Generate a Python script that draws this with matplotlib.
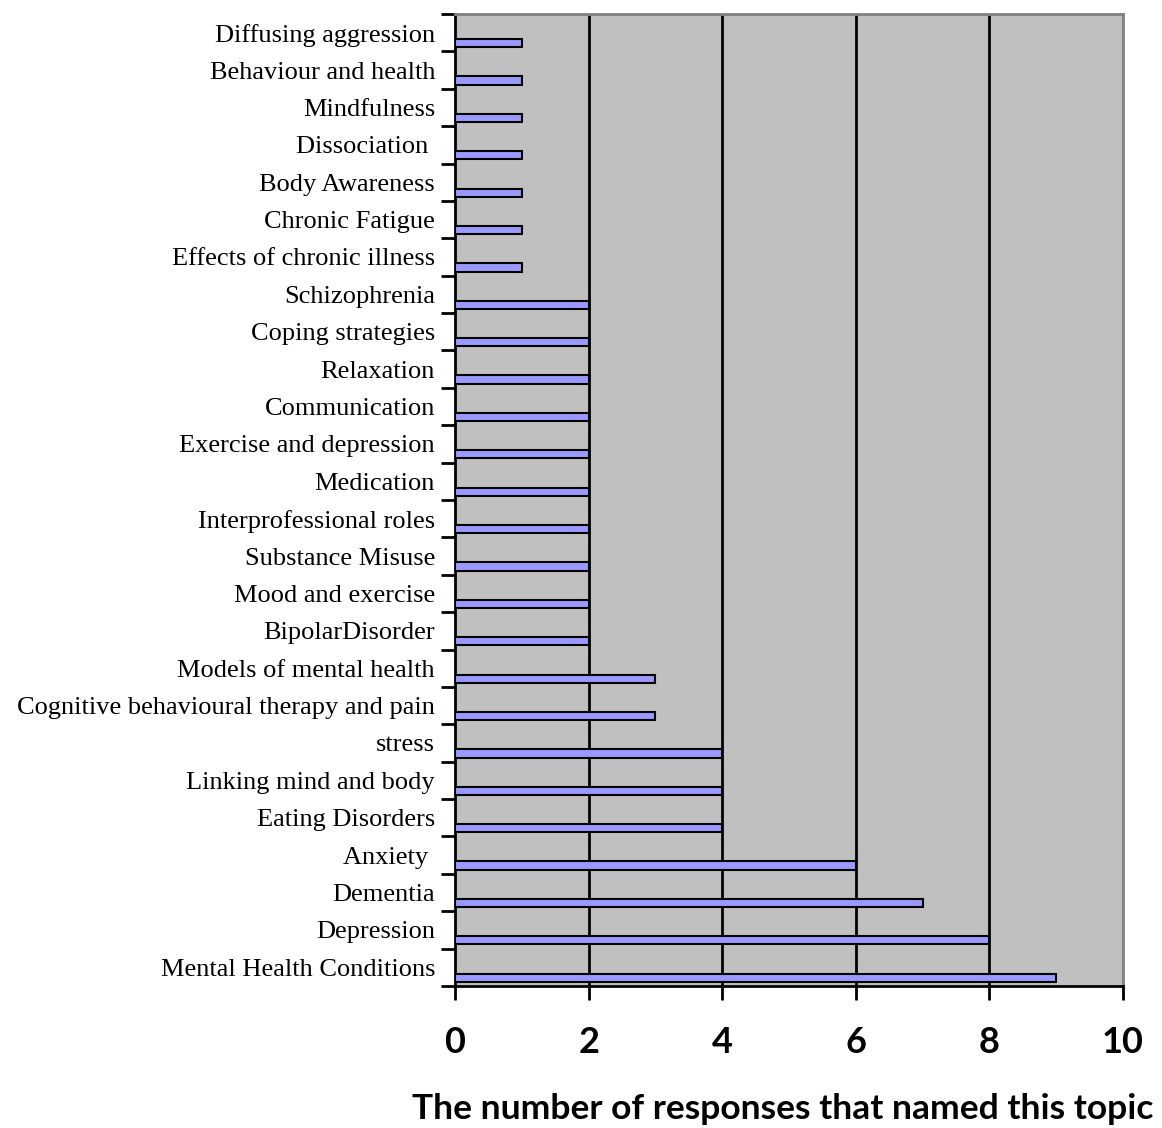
import numpy as np
import matplotlib.pyplot as plt
from matplotlib.ticker import FixedLocator

# topics listed from the bottom of the chart to the top
topics = [
    "Mental Health Conditions", "Depression", "Dementia", "Anxiety ",
    "Eating Disorders", "Linking mind and body", "stress",
    "Cognitive behavioural therapy and pain", "Models of mental health",
    "BipolarDisorder", "Mood and exercise", "Substance Misuse",
    "Interprofessional roles", "Medication", "Exercise and depression",
    "Communication", "Relaxation", "Coping strategies", "Schizophrenia",
    "Effects of chronic illness", "Chronic Fatigue", "Body Awareness",
    "Dissociation ", "Mindfulness", "Behaviour and health",
    "Diffusing aggression",
]
responses = [9, 8, 7, 6, 4, 4, 4, 3, 3, 2, 2, 2, 2, 2, 2, 2, 2, 2, 2,
             1, 1, 1, 1, 1, 1, 1]
x_ticks = [0, 2, 4, 6, 8, 10]


def plot_chart():
    fig = plt.figure(figsize=(11.62, 11.28), dpi=100)
    ax = fig.add_axes([0.3916, 0.1259, 0.5748, 0.8617])
    ax.set_facecolor("#c0c0c0")

    pos = np.arange(len(topics))
    # bars sit in the lower part of each category slot
    ax.barh(pos - 0.28, responses, height=0.22, color="#9999ff",
            edgecolor="black", linewidth=1.5, zorder=3)

    ax.set_xlim(0, 10)
    ax.set_ylim(-0.5, len(topics) - 0.5)

    for x in x_ticks[1:-1]:
        ax.axvline(x, color="black", linewidth=2, zorder=2)

    ax.set_yticks(pos)
    ax.set_yticklabels(topics, family="Liberation Serif", fontsize=19)
    ax.yaxis.set_minor_locator(FixedLocator(np.arange(-0.5, len(topics), 1.0)))
    ax.tick_params(axis="y", which="major", length=0, pad=14.4)
    ax.tick_params(axis="y", which="minor", length=10, width=2,
                   direction="out")

    ax.set_xticks(x_ticks)
    ax.set_xticklabels([str(v) for v in x_ticks], family="Lato",
                       fontweight="bold", fontsize=26)
    ax.tick_params(axis="x", length=10, width=2, direction="out", pad=19)
    ax.set_xlabel("The number of responses that named this topic",
                  family="Lato", fontweight="bold", fontsize=25.5)
    ax.xaxis.set_label_coords(0.49, -0.11)

    for side in ("left", "bottom"):
        ax.spines[side].set_color("black")
        ax.spines[side].set_linewidth(2)
    for side in ("top", "right"):
        ax.spines[side].set_color("#808080")
        ax.spines[side].set_linewidth(2)

    fig.savefig("out.png", dpi=100, facecolor="white")


def main():
    plot_chart()


if __name__ == "__main__":
    main()
